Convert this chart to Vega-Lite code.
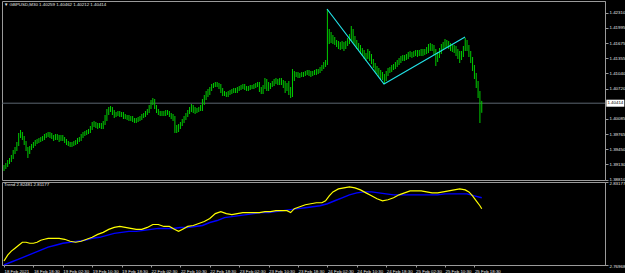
{
"$schema": "https://vega.github.io/schema/vega-lite/v6.json",
"background": "#000000",
"padding": 0,
"spacing": 2,
"bounds": "flush",
"config": {
"view": {"stroke": "#9a9a9a", "strokeWidth": 1},
"axis": {"labelFont": "Liberation Sans", "labelFontSize": 4.4, "labelColor": "#e6e6e6", "domainColor": "#9a9a9a", "tickColor": "#9a9a9a", "grid": false, "title": null, "labelOverlap": false, "labelFlush": false, "labelBound": false},
"title": {"font": "Liberation Sans", "fontSize": 4.4, "fontWeight": "normal", "color": "#e6e6e6", "anchor": "start", "frame": "group"}
},
"datasets": {
"bars": [
{"i":0,"h":1.39116,"l":1.3899},{"i":1,"h":1.39158,"l":1.39032},{"i":2,"h":1.39221,"l":1.39074},{"i":3,"h":1.39263,"l":1.39137},{"i":4,"h":1.39326,"l":1.39179},
{"i":5,"h":1.39431,"l":1.39242},{"i":6,"h":1.39494,"l":1.39347},{"i":7,"h":1.39599,"l":1.3941},{"i":8,"h":1.39788,"l":1.39515},{"i":9,"h":1.39851,"l":1.39683},
{"i":10,"h":1.39809,"l":1.39641},{"i":11,"h":1.39725,"l":1.39536},{"i":12,"h":1.3962,"l":1.3941},{"i":13,"h":1.39494,"l":1.39263},{"i":14,"h":1.39515,"l":1.39347},
{"i":15,"h":1.39557,"l":1.39431},{"i":16,"h":1.39599,"l":1.39473},{"i":17,"h":1.39641,"l":1.39515},{"i":18,"h":1.39662,"l":1.39557},{"i":19,"h":1.39683,"l":1.39578},
{"i":20,"h":1.39704,"l":1.39599},{"i":21,"h":1.39725,"l":1.3962},{"i":22,"h":1.39767,"l":1.39641},{"i":23,"h":1.39788,"l":1.39683},{"i":24,"h":1.39809,"l":1.39704},
{"i":25,"h":1.39809,"l":1.39683},{"i":26,"h":1.39788,"l":1.39662},{"i":27,"h":1.39746,"l":1.3962},{"i":28,"h":1.39767,"l":1.39641},{"i":29,"h":1.39767,"l":1.39641},
{"i":30,"h":1.39746,"l":1.39599},{"i":31,"h":1.39746,"l":1.3962},{"i":32,"h":1.39746,"l":1.3962},{"i":33,"h":1.39704,"l":1.39578},{"i":34,"h":1.39662,"l":1.39536},
{"i":35,"h":1.3962,"l":1.39515},{"i":36,"h":1.39599,"l":1.39494},{"i":37,"h":1.39599,"l":1.39494},{"i":38,"h":1.3962,"l":1.39515},{"i":39,"h":1.39641,"l":1.39536},
{"i":40,"h":1.39683,"l":1.39557},{"i":41,"h":1.39704,"l":1.39599},{"i":42,"h":1.39767,"l":1.3962},{"i":43,"h":1.39809,"l":1.39683},{"i":44,"h":1.3983,"l":1.39725},
{"i":45,"h":1.39851,"l":1.39746},{"i":46,"h":1.39872,"l":1.39767},{"i":47,"h":1.39935,"l":1.39788},{"i":48,"h":1.40019,"l":1.39851},{"i":49,"h":1.4004,"l":1.39914},
{"i":50,"h":1.40019,"l":1.39893},{"i":51,"h":1.39998,"l":1.39872},{"i":52,"h":1.39998,"l":1.39893},{"i":53,"h":1.39998,"l":1.39872},{"i":54,"h":1.4004,"l":1.39872},
{"i":55,"h":1.40166,"l":1.39956},{"i":56,"h":1.40292,"l":1.4004},{"i":57,"h":1.40334,"l":1.40166},{"i":58,"h":1.40355,"l":1.40229},{"i":59,"h":1.40334,"l":1.40166},
{"i":60,"h":1.40271,"l":1.40103},{"i":61,"h":1.40229,"l":1.40124},{"i":62,"h":1.4025,"l":1.40145},{"i":63,"h":1.4025,"l":1.40124},{"i":64,"h":1.40229,"l":1.40124},
{"i":65,"h":1.40229,"l":1.40082},{"i":66,"h":1.40187,"l":1.40082},{"i":67,"h":1.40166,"l":1.40061},{"i":68,"h":1.40166,"l":1.4004},{"i":69,"h":1.40145,"l":1.4004},
{"i":70,"h":1.40145,"l":1.40019},{"i":71,"h":1.40103,"l":1.39998},{"i":72,"h":1.40103,"l":1.39998},{"i":73,"h":1.40124,"l":1.40019},{"i":74,"h":1.40145,"l":1.4004},
{"i":75,"h":1.40187,"l":1.40061},{"i":76,"h":1.40208,"l":1.40103},{"i":77,"h":1.4025,"l":1.40124},{"i":78,"h":1.40292,"l":1.40166},{"i":79,"h":1.40376,"l":1.40208},
{"i":80,"h":1.40481,"l":1.40292},{"i":81,"h":1.40523,"l":1.40376},{"i":82,"h":1.40502,"l":1.40292},{"i":83,"h":1.40376,"l":1.40208},{"i":84,"h":1.40292,"l":1.40166},
{"i":85,"h":1.4025,"l":1.40145},{"i":86,"h":1.4025,"l":1.40145},{"i":87,"h":1.4025,"l":1.40145},{"i":88,"h":1.40271,"l":1.40145},{"i":89,"h":1.40271,"l":1.40166},
{"i":90,"h":1.4025,"l":1.40124},{"i":91,"h":1.40208,"l":1.40082},{"i":92,"h":1.40187,"l":1.4004},{"i":93,"h":1.40145,"l":1.39788},{"i":94,"h":1.39956,"l":1.39788},
{"i":95,"h":1.39977,"l":1.39809},{"i":96,"h":1.40019,"l":1.39872},{"i":97,"h":1.40082,"l":1.39935},{"i":98,"h":1.40145,"l":1.39998},{"i":99,"h":1.40208,"l":1.40061},
{"i":100,"h":1.40271,"l":1.40124},{"i":101,"h":1.40334,"l":1.40187},{"i":102,"h":1.40397,"l":1.40229},{"i":103,"h":1.40376,"l":1.40208},{"i":104,"h":1.40334,"l":1.40187},
{"i":105,"h":1.40313,"l":1.40208},{"i":106,"h":1.40334,"l":1.40229},{"i":107,"h":1.40376,"l":1.4025},{"i":108,"h":1.40502,"l":1.4025},{"i":109,"h":1.40586,"l":1.40376},
{"i":110,"h":1.4067,"l":1.40481},{"i":111,"h":1.40712,"l":1.40544},{"i":112,"h":1.40754,"l":1.40586},{"i":113,"h":1.40817,"l":1.4067},{"i":114,"h":1.40838,"l":1.40733},
{"i":115,"h":1.40859,"l":1.40754},{"i":116,"h":1.40859,"l":1.40754},{"i":117,"h":1.40838,"l":1.40712},{"i":118,"h":1.40817,"l":1.40628},{"i":119,"h":1.40733,"l":1.40565},
{"i":120,"h":1.4067,"l":1.40565},{"i":121,"h":1.40649,"l":1.40544},{"i":122,"h":1.4067,"l":1.40544},{"i":123,"h":1.40691,"l":1.40586},{"i":124,"h":1.40712,"l":1.40607},
{"i":125,"h":1.40733,"l":1.40628},{"i":126,"h":1.40733,"l":1.40628},{"i":127,"h":1.40754,"l":1.40628},{"i":128,"h":1.40775,"l":1.4067},{"i":129,"h":1.40796,"l":1.40691},
{"i":130,"h":1.40817,"l":1.40712},{"i":131,"h":1.40817,"l":1.40691},{"i":132,"h":1.40775,"l":1.4067},{"i":133,"h":1.40775,"l":1.4067},{"i":134,"h":1.40796,"l":1.40691},
{"i":135,"h":1.40796,"l":1.40712},{"i":136,"h":1.40817,"l":1.40712},{"i":137,"h":1.40838,"l":1.40733},{"i":138,"h":1.40859,"l":1.40754},{"i":139,"h":1.40859,"l":1.40649},
{"i":140,"h":1.40754,"l":1.40607},{"i":141,"h":1.40796,"l":1.40607},{"i":142,"h":1.40943,"l":1.40712},{"i":143,"h":1.40922,"l":1.4067},{"i":144,"h":1.40859,"l":1.4067},
{"i":145,"h":1.40838,"l":1.40712},{"i":146,"h":1.4088,"l":1.40754},{"i":147,"h":1.40922,"l":1.40775},{"i":148,"h":1.40943,"l":1.40817},{"i":149,"h":1.40922,"l":1.40796},
{"i":150,"h":1.40943,"l":1.40796},{"i":151,"h":1.40943,"l":1.40796},{"i":152,"h":1.40901,"l":1.40733},{"i":153,"h":1.4088,"l":1.40628},{"i":154,"h":1.40838,"l":1.4067},
{"i":155,"h":1.4088,"l":1.40586},{"i":156,"h":1.40754,"l":1.40523},{"i":157,"h":1.41132,"l":1.40544},{"i":158,"h":1.4109,"l":1.4088},{"i":159,"h":1.41069,"l":1.40964},
{"i":160,"h":1.41069,"l":1.40943},{"i":161,"h":1.41048,"l":1.40943},{"i":162,"h":1.41069,"l":1.40964},{"i":163,"h":1.41069,"l":1.40964},{"i":164,"h":1.4109,"l":1.40985},
{"i":165,"h":1.41111,"l":1.41006},{"i":166,"h":1.41111,"l":1.40985},{"i":167,"h":1.4109,"l":1.40964},{"i":168,"h":1.4109,"l":1.40985},{"i":169,"h":1.41111,"l":1.41006},
{"i":170,"h":1.41132,"l":1.41006},{"i":171,"h":1.41132,"l":1.41027},{"i":172,"h":1.41174,"l":1.41048},{"i":173,"h":1.41216,"l":1.4109},{"i":174,"h":1.41279,"l":1.41132},
{"i":175,"h":1.41321,"l":1.41174},{"i":176,"h":1.42392,"l":1.41216},{"i":177,"h":1.41972,"l":1.41657},{"i":178,"h":1.41909,"l":1.41678},{"i":179,"h":1.41846,"l":1.41657},
{"i":180,"h":1.41804,"l":1.41636},{"i":181,"h":1.41741,"l":1.41594},{"i":182,"h":1.4172,"l":1.41552},{"i":183,"h":1.41699,"l":1.41531},{"i":184,"h":1.4172,"l":1.41552},
{"i":185,"h":1.41699,"l":1.4151},{"i":186,"h":1.4172,"l":1.41552},{"i":187,"h":1.41783,"l":1.41615},{"i":188,"h":1.41867,"l":1.41657},{"i":189,"h":1.42035,"l":1.4172},
{"i":190,"h":1.41972,"l":1.41678},{"i":191,"h":1.41825,"l":1.41615},{"i":192,"h":1.41741,"l":1.41552},{"i":193,"h":1.41678,"l":1.4151},{"i":194,"h":1.41636,"l":1.41447},
{"i":195,"h":1.41573,"l":1.41405},{"i":196,"h":1.41531,"l":1.41342},{"i":197,"h":1.41468,"l":1.413},{"i":198,"h":1.41552,"l":1.41342},{"i":199,"h":1.4151,"l":1.413},
{"i":200,"h":1.41447,"l":1.41237},{"i":201,"h":1.41342,"l":1.41153},{"i":202,"h":1.41258,"l":1.41069},{"i":203,"h":1.41195,"l":1.41027},{"i":204,"h":1.41153,"l":1.40964},
{"i":205,"h":1.41111,"l":1.40922},{"i":206,"h":1.41069,"l":1.40901},{"i":207,"h":1.41027,"l":1.40817},{"i":208,"h":1.4109,"l":1.4088},{"i":209,"h":1.41153,"l":1.40985},
{"i":210,"h":1.41174,"l":1.41048},{"i":211,"h":1.41216,"l":1.41069},{"i":212,"h":1.41237,"l":1.41111},{"i":213,"h":1.41279,"l":1.41132},{"i":214,"h":1.41321,"l":1.41174},
{"i":215,"h":1.41363,"l":1.41216},{"i":216,"h":1.41405,"l":1.41258},{"i":217,"h":1.41426,"l":1.413},{"i":218,"h":1.41426,"l":1.413},{"i":219,"h":1.41447,"l":1.41321},
{"i":220,"h":1.41489,"l":1.41342},{"i":221,"h":1.4151,"l":1.41384},{"i":222,"h":1.41489,"l":1.41363},{"i":223,"h":1.4151,"l":1.41384},{"i":224,"h":1.41531,"l":1.41405},
{"i":225,"h":1.41531,"l":1.41384},{"i":226,"h":1.41531,"l":1.41405},{"i":227,"h":1.41552,"l":1.41405},{"i":228,"h":1.41552,"l":1.41405},{"i":229,"h":1.41552,"l":1.41426},
{"i":230,"h":1.41594,"l":1.41447},{"i":231,"h":1.41657,"l":1.41468},{"i":232,"h":1.41678,"l":1.4151},{"i":233,"h":1.41657,"l":1.4151},{"i":234,"h":1.41636,"l":1.41426},
{"i":235,"h":1.41552,"l":1.41195},{"i":236,"h":1.41489,"l":1.41279},{"i":237,"h":1.41573,"l":1.41363},{"i":238,"h":1.41657,"l":1.41447},{"i":239,"h":1.41699,"l":1.41531},
{"i":240,"h":1.41762,"l":1.41573},{"i":241,"h":1.41741,"l":1.41594},{"i":242,"h":1.4172,"l":1.41552},{"i":243,"h":1.41678,"l":1.4151},{"i":244,"h":1.41657,"l":1.41489},
{"i":245,"h":1.41636,"l":1.41468},{"i":246,"h":1.41615,"l":1.41405},{"i":247,"h":1.41552,"l":1.41342},{"i":248,"h":1.4151,"l":1.41258},{"i":249,"h":1.4151,"l":1.41321},
{"i":250,"h":1.41615,"l":1.41384},{"i":251,"h":1.41783,"l":1.4151},{"i":252,"h":1.41741,"l":1.4151},{"i":253,"h":1.41636,"l":1.41384},{"i":254,"h":1.4151,"l":1.41258},
{"i":255,"h":1.41384,"l":1.4109},{"i":256,"h":1.41216,"l":1.40922},{"i":257,"h":1.41048,"l":1.40733},{"i":258,"h":1.4088,"l":1.40523},{"i":259,"h":1.4067,"l":1.39998},
{"i":260,"h":1.40462,"l":1.40212}
],
"trendline": [{"i":175.8,"p":1.42392},{"i":206.8,"p":1.40817},{"i":250.9,"p":1.41804}],
"last": [{"p":1.40414,"label":"1.40414"}],
"fast": [
{"i":0,"v":2.77265},{"i":2,"v":2.77708},{"i":4,"v":2.78004},{"i":6,"v":2.78226},{"i":8,"v":2.78447},{"i":10,"v":2.78669},{"i":12,"v":2.78669},{"i":14,"v":2.78595},{"i":16,"v":2.78595},{"i":18,"v":2.78669},
{"i":20,"v":2.78817},{"i":22,"v":2.78891},{"i":24,"v":2.78965},{"i":27,"v":2.78965},{"i":30,"v":2.78965},{"i":33,"v":2.78891},{"i":36,"v":2.78743},{"i":39,"v":2.78669},{"i":42,"v":2.78743},{"i":45,"v":2.78891},
{"i":48,"v":2.79039},{"i":51,"v":2.7926},{"i":54,"v":2.79408},{"i":57,"v":2.7963},{"i":60,"v":2.79778},{"i":63,"v":2.79852},{"i":66,"v":2.79778},{"i":69,"v":2.79704},{"i":72,"v":2.7963},{"i":75,"v":2.7963},
{"i":78,"v":2.79778},{"i":81,"v":2.79999},{"i":84,"v":2.79999},{"i":87,"v":2.79852},{"i":90,"v":2.79852},{"i":93,"v":2.7963},{"i":95,"v":2.79482},{"i":97,"v":2.7963},{"i":100,"v":2.79852},{"i":103,"v":2.79925},
{"i":106,"v":2.80073},{"i":109,"v":2.80221},{"i":112,"v":2.80443},{"i":115,"v":2.80812},{"i":118,"v":2.8096},{"i":121,"v":2.80812},{"i":124,"v":2.80738},{"i":127,"v":2.80812},{"i":130,"v":2.80886},{"i":133,"v":2.80886},
{"i":136,"v":2.80886},{"i":139,"v":2.80886},{"i":142,"v":2.8096},{"i":145,"v":2.8096},{"i":148,"v":2.81034},{"i":151,"v":2.81034},{"i":154,"v":2.81034},{"i":156,"v":2.80886},{"i":158,"v":2.81182},{"i":161,"v":2.81329},
{"i":164,"v":2.81477},{"i":167,"v":2.81551},{"i":170,"v":2.81625},{"i":173,"v":2.81625},{"i":175,"v":2.81773},{"i":177,"v":2.82142},{"i":179,"v":2.82438},{"i":182,"v":2.8266},{"i":185,"v":2.82734},{"i":188,"v":2.82807},
{"i":191,"v":2.82734},{"i":194,"v":2.82586},{"i":197,"v":2.82364},{"i":200,"v":2.82142},{"i":203,"v":2.81921},{"i":206,"v":2.81773},{"i":209,"v":2.81847},{"i":212,"v":2.81995},{"i":215,"v":2.82216},{"i":218,"v":2.82364},
{"i":221,"v":2.82512},{"i":224,"v":2.82512},{"i":227,"v":2.82512},{"i":230,"v":2.82438},{"i":233,"v":2.82364},{"i":236,"v":2.82364},{"i":239,"v":2.82438},{"i":242,"v":2.82512},{"i":245,"v":2.82586},{"i":248,"v":2.8266},
{"i":251,"v":2.82586},{"i":253,"v":2.82438},{"i":255,"v":2.82142},{"i":257,"v":2.81773},{"i":259,"v":2.81403},{"i":260,"v":2.81177}
],
"slow": [
{"i":0,"v":2.7697},{"i":4,"v":2.77191},{"i":8,"v":2.77413},{"i":12,"v":2.77634},{"i":16,"v":2.77856},{"i":20,"v":2.78078},{"i":24,"v":2.783},{"i":28,"v":2.78447},{"i":32,"v":2.78595},{"i":36,"v":2.78669},
{"i":40,"v":2.78743},{"i":44,"v":2.78817},{"i":48,"v":2.78965},{"i":52,"v":2.79039},{"i":56,"v":2.79186},{"i":60,"v":2.79334},{"i":64,"v":2.79408},{"i":68,"v":2.79482},{"i":72,"v":2.79482},{"i":76,"v":2.79556},
{"i":80,"v":2.7963},{"i":84,"v":2.79704},{"i":88,"v":2.79704},{"i":92,"v":2.79704},{"i":96,"v":2.79778},{"i":100,"v":2.79778},{"i":104,"v":2.79852},{"i":108,"v":2.79925},{"i":112,"v":2.80147},{"i":116,"v":2.80295},
{"i":120,"v":2.80517},{"i":124,"v":2.8059},{"i":128,"v":2.80664},{"i":132,"v":2.80738},{"i":136,"v":2.80812},{"i":140,"v":2.80886},{"i":144,"v":2.80886},{"i":148,"v":2.8096},{"i":152,"v":2.81034},{"i":156,"v":2.81108},
{"i":160,"v":2.81182},{"i":164,"v":2.81255},{"i":168,"v":2.81329},{"i":172,"v":2.81403},{"i":176,"v":2.81551},{"i":180,"v":2.81773},{"i":184,"v":2.81995},{"i":188,"v":2.82216},{"i":192,"v":2.82364},{"i":196,"v":2.82438},
{"i":200,"v":2.82438},{"i":204,"v":2.82364},{"i":208,"v":2.8229},{"i":212,"v":2.82216},{"i":216,"v":2.82216},{"i":220,"v":2.82216},{"i":224,"v":2.82216},{"i":228,"v":2.82216},{"i":232,"v":2.82216},{"i":236,"v":2.82216},
{"i":240,"v":2.8229},{"i":244,"v":2.8229},{"i":248,"v":2.8229},{"i":252,"v":2.8229},{"i":256,"v":2.82142},{"i":260,"v":2.81995}
]
},
"resolve": {"scale": {"x": "independent", "y": "independent"}},
"vconcat": [
{
"width": 603, "height": 179,
"title": {"text": "▼ GBPUSD,M30  1.40259 1.40462 1.40212 1.40414", "offset": -6.5, "dx": 2},
"layer": [
{"data": {"name": "last"}, "mark": {"type": "rule", "color": "#5c6670", "strokeWidth": 1},
 "encoding": {"y": {"field": "p", "type": "quantitative", "scale": {"domain": [1.38801, 1.4256], "zero": false, "nice": false},
   "axis": {"orient": "right", "values": [1.3881, 1.3913, 1.3945, 1.39765, 1.40085, 1.4072, 1.4104, 1.41355, 1.41675, 1.41995, 1.4231], "tickCount": 50, "format": ".5f", "tickSize": 3, "labelPadding": 1, "labelBaseline": "middle", "labelOverlap": false, "labelFlush": false}}}},
{"data": {"name": "bars"}, "mark": {"type": "rule", "color": "#00cc00", "strokeWidth": 1},
 "encoding": {"x": {"field": "i", "type": "quantitative", "scale": {"domain": [-1.0884, 327.07], "nice": false, "zero": false}, "axis": null},
   "y": {"field": "l", "type": "quantitative"}, "y2": {"field": "h"}}},
{"data": {"name": "trendline"}, "mark": {"type": "line", "color": "#22e0e6", "strokeWidth": 1.2},
 "encoding": {"x": {"field": "i", "type": "quantitative"}, "y": {"field": "p", "type": "quantitative"}}},
{"data": {"name": "last"}, "mark": {"type": "rect", "color": "#ffffff", "clip": false},
 "encoding": {"x": {"datum": 327.8}, "x2": {"datum": 337.6}, "y": {"field": "p", "type": "quantitative"}, "y2": {"datum": 1.4034}, "yOffset": {"value": -3.5}}},
{"data": {"name": "last"}, "mark": {"type": "text", "color": "#000000", "font": "Liberation Sans", "fontSize": 4.4, "align": "center", "baseline": "middle", "clip": false},
 "encoding": {"x": {"datum": 332.7}, "y": {"field": "p", "type": "quantitative"}, "text": {"field": "label"}}}
]
},
{
"width": 603, "height": 83,
"title": {"text": "Trend 2.82481 2.81177", "offset": -6.5, "dx": 2},
"layer": [
{"data": {"name": "slow"}, "mark": {"type": "line", "color": "#0000ff", "strokeWidth": 1.4},
 "encoding": {"x": {"field": "i", "type": "quantitative", "scale": {"domain": [-1.0884, 327.07], "nice": false, "zero": false},
   "axis": {"orient": "bottom", "values": [0,16,32,48,64,80,96,112,128,144,160,176,192,208,224,240,256], "tickCount": 50, "labelAlign": "left", "labelPadding": 2, "tickSize": 2, "labelOverlap": false, "labelFlush": false,
     "labelExpr": "['18 Feb 2021','18 Feb 18:30','19 Feb 02:30','19 Feb 10:30','19 Feb 18:30','22 Feb 02:30','22 Feb 10:30','22 Feb 18:30','23 Feb 02:30','23 Feb 10:30','23 Feb 18:30','24 Feb 02:30','24 Feb 10:30','24 Feb 18:30','25 Feb 02:30','25 Feb 10:30','25 Feb 18:30'][round(datum.value/16)]"}},
   "y": {"field": "v", "type": "quantitative", "scale": {"domain": [2.76968, 2.83177], "zero": false, "nice": false},
   "axis": {"orient": "right", "values": [2.76968, 2.83177], "tickCount": 50, "format": ".5f", "tickSize": 3, "labelPadding": 1, "labelBaseline": "top", "labelOffset": -0.5, "labelOverlap": false, "labelFlush": false}}}},
{"data": {"name": "fast"}, "mark": {"type": "line", "color": "#ffff00", "strokeWidth": 1.2},
 "encoding": {"x": {"field": "i", "type": "quantitative"}, "y": {"field": "v", "type": "quantitative"}}}
]
}
]
}
